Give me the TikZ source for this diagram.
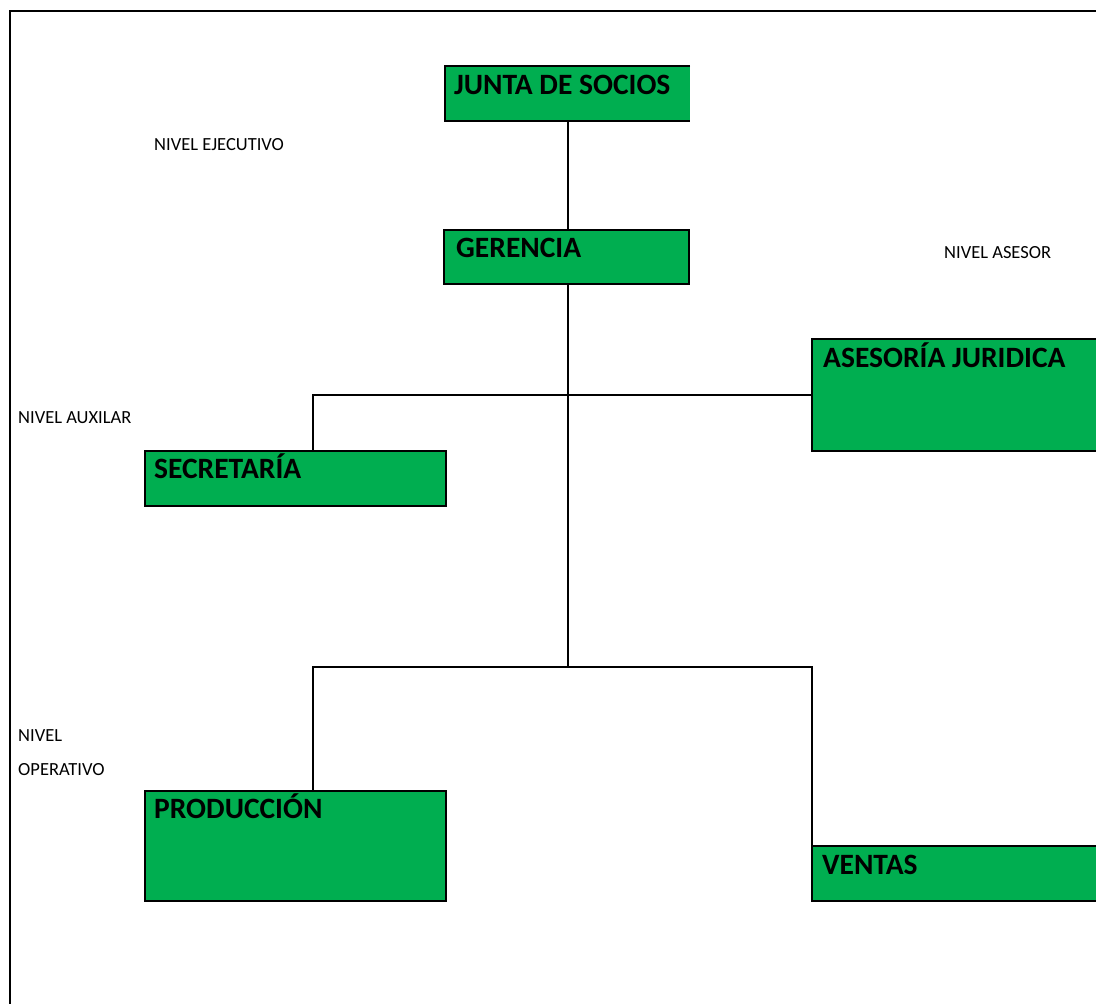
\documentclass[tikz,border=0pt]{standalone}
\usepackage{fontspec}
\setmainfont{Carlito}
\definecolor{boxgreen}{HTML}{00AE50}
\begin{document}
\begin{tikzpicture}[x=1pt,y=-1pt,
  unit/.style={fill=boxgreen,inner sep=0pt,outer sep=0pt,anchor=north west,minimum width=#1},
  framed/.style={draw=black,line width=2.6pt},
  title/.style={anchor=base west,inner sep=0pt,font=\fontsize{29.5}{34}\selectfont\bfseries},
  level/.style={anchor=base west,inner sep=0pt,font=\fontsize{18.5}{22}\selectfont},
  link/.style={draw=black,line width=2.2pt}]
\useasboundingbox (0,0) rectangle (1096,1004);
\clip (0,0) rectangle (1096,1004);
\fill[white] (0,0) rectangle (1096,1004);

% outer frame (only top and left edges fall inside the page)
\coordinate (fr1) at (1110,11);
\coordinate (fr2) at (10,11);
\coordinate (fr3) at (10,1020);
\draw[line width=2.8pt] (fr1) -- (fr2) -- (fr3);

% boxes
\node[unit=245pt,minimum height=55pt] (junta) at (445,66) {};
\draw[line width=2.6pt] (junta.north east) -- (junta.north west) -- (junta.south west) -- (junta.south east);
\node[unit=245pt,minimum height=54pt,framed] (ger) at (444,230) {};
\node[unit=300pt,minimum height=112pt,framed] (ases) at (812,339) {};
\node[unit=301pt,minimum height=55pt,framed] (sec) at (145,451) {};
\node[unit=301pt,minimum height=110pt,framed] (prod) at (145,791) {};
\node[unit=300pt,minimum height=55pt,framed] (vent) at (812,846) {};

% box titles
\node[title] (tjunta) at (454,94) {JUNTA DE SOCIOS};
\node[title] (tger) at (456,257) {GERENCIA};
\node[title] (tases) at (823,367) {ASESORÍA JURIDICA};
\node[title] (tsec) at (154,478) {SECRETARÍA};
\node[title] (tprod) at (154,818) {PRODUCCIÓN};
\node[title] (tvent) at (822,874) {VENTAS};

% level labels
\node[level] (l1) at (154,150) {NIVEL EJECUTIVO};
\node[level] (l2) at (944,258) {NIVEL ASESOR};
\node[level] (l3) at (18,423) {NIVEL AUXILAR};
\node[level] (l4) at (18,741) {NIVEL};
\node[level] (l5) at (18,775) {OPERATIVO};

% connectors
\coordinate (trunk) at (568,667);
\coordinate (auxL) at (313,395);
\coordinate (opL) at (313,667);
\coordinate (opR) at (812,667);
\draw[link] (junta.south -| trunk) -- (ger.north -| trunk);
\draw[link] (ger.south -| trunk) -- (trunk);
\draw[link] (sec.north -| auxL) -- (auxL) -- (auxL -| ases.west);
\draw[link] (prod.north -| opL) -- (opL) -- (opR) -- (vent.north west);
\end{tikzpicture}
\end{document}
